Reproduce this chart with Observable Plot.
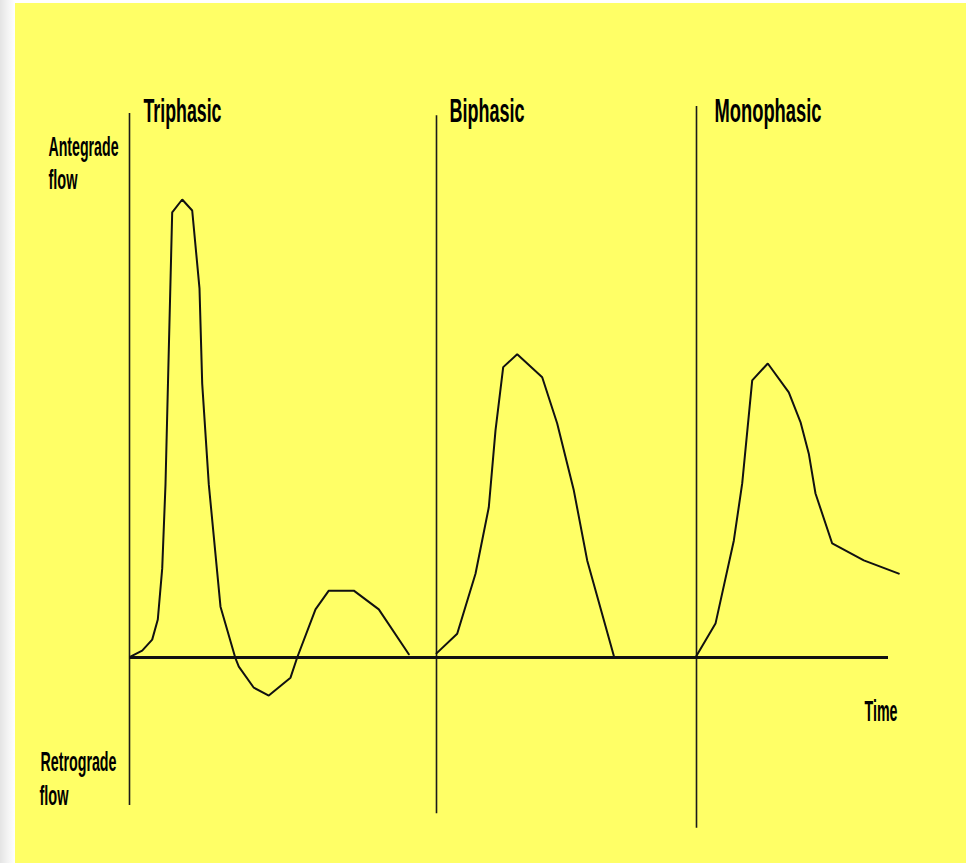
<!DOCTYPE html>
<html><head><meta charset="utf-8">
<script src="https://cdn.jsdelivr.net/npm/d3@7"></script>
<script src="https://cdn.jsdelivr.net/npm/@observablehq/plot@0.6"></script>
<style>
html,body{margin:0;padding:0;background:#fff;}
#page{position:relative;width:966px;height:863px;overflow:hidden;background:linear-gradient(to right,#e4e4e4 0px,#f4f4f4 8px,#fff 15px);}
#yellow{position:absolute;left:15px;top:3px;right:0;bottom:0;background:#ffff66;}
#chart{position:absolute;left:0;top:0;}
</style></head><body>
<div id="page"><div id="yellow"></div><div id="chart"></div></div>
<script>
// ---- data (time in arbitrary units, flow as % of triphasic peak) ----
const triphasicTime = [1, 12.7, 22.7, 28.3, 32.7, 36, 39.3, 42.7, 52.7, 62.7, 70, 72.7, 79.3, 91, 106, 109.3, 124.3, 139.3, 161, 167.7, 186, 199.3, 224.3, 249.3, 279.3];
const triphasicFlow = [0.2, 1.5, 3.9, 8.3, 19.4, 37.8, 67.2, 97.2, 100, 97.6, 80.6, 59.8, 37.8, 11.1, -0.2, -2.0, -6.6, -8.3, -4.4, 0, 10.5, 14.6, 14.6, 10.5, 0.7];
const biphasicTime = [307, 327.7, 346, 359.3, 366, 373.7, 387.7, 412.7, 427.7, 444.3, 457.7, 484.3];
const biphasicFlow = [0.9, 5.2, 18.3, 32.8, 49.6, 63.4, 66.2, 61.2, 51.1, 36.5, 21.2, 0.4];
const monophasicTime = [567, 586, 604.3, 612.7, 622.7, 638.3, 659.3, 671, 679.3, 686, 702.7, 734.3, 769.3];
const monophasicFlow = [0.4, 7.4, 25.5, 38.0, 60.5, 64.2, 57.9, 51.4, 44.5, 35.8, 24.9, 21.2, 18.3];

const phaseNames = ["Triphasic", "Biphasic", "Monophasic"];
const dividerTime = [0, 307, 567];
const dividerTop = [118.8, 118.3, 120.3];
const dividerBottom = [-32.3, -34.1, -37.3];
const baselineStart = 0;
const baselineEnd = 759;

const labelText = ["Triphasic", "Biphasic", "Monophasic", "Antegrade", "flow", "Retrograde", "flow", "Time"];
const labelTime = [14, 320, 585, -81, -81, -89, -90, 735];
const labelFlow = [116.9, 116.9, 116.9, 109.4, 102.4, -24.7, -32.1, -13.9];

// ---- styling ----
const labelFontSize = [33, 33, 33, 28, 27, 28, 28, 30];
const labelWidth = [78, 75, 107, 70, 29, 76, 29, 33];

const waves = [];
[[triphasicTime, triphasicFlow], [biphasicTime, biphasicFlow], [monophasicTime, monophasicFlow]].forEach(([T, F], k) => {
  T.forEach((t, i) => waves.push({phase: phaseNames[k], t, f: F[i]}));
});
const labels = labelText.map((text, i) => ({text, t: labelTime[i], f: labelFlow[i], size: labelFontSize[i]}));

const chart = Plot.plot({
  width: 966,
  height: 863,
  margin: 0,
  x: {domain: [0, 759], range: [129, 888], axis: null},
  y: {domain: [0, 100], range: [657, 199], axis: null},
  style: {background: "transparent", overflow: "visible"},
  marks: [
    Plot.ruleX(d3.range(dividerTime.length), {x: i => dividerTime[i], y1: i => dividerBottom[i], y2: i => dividerTop[i], stroke: "#1a1a1a", strokeWidth: 1.6}),
    Plot.ruleY([0], {y: d => d, x1: () => baselineStart, x2: () => baselineEnd, stroke: "#111", strokeWidth: 3}),
    Plot.line(waves, {x: "t", y: "f", z: "phase", stroke: "#111", strokeWidth: 2, strokeLinejoin: "miter", curve: "linear"}),
    Plot.text(labels, {x: "t", y: "f", text: "text", fontSize: "size", textAnchor: "start", lineAnchor: "bottom", fill: "#000", fontWeight: "bold", fontFamily: "'Liberation Sans Narrow','Arial Narrow','Liberation Sans',Arial,sans-serif"})
  ]
});
document.getElementById("chart").appendChild(chart);
const textEls = chart.querySelectorAll('g[aria-label="text"] text');
textEls.forEach((el, i) => {
  el.setAttribute("textLength", labelWidth[i]);
  el.setAttribute("lengthAdjust", "spacingAndGlyphs");
});
</script>
</body></html>
